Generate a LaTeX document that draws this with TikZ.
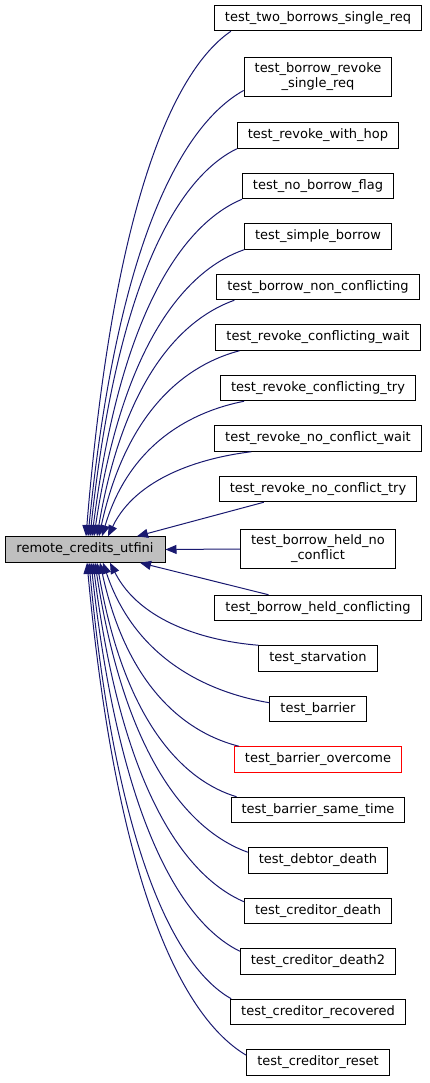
\documentclass[tikz,border=0pt]{standalone}
\usepackage{fontspec}
\setmainfont{DejaVu Sans}
\usetikzlibrary{arrows.meta}

\definecolor{callblue}{HTML}{191970}
\definecolor{mainfill}{HTML}{BFBFBF}

\newcommand*{\testx}{318}

\begin{document}
\begin{tikzpicture}
[
	x=1pt, y=-1pt,
	font=\fontsize{13}{15}\selectfont,
	testbox/.style={draw=black, line width=1pt, fill=white, inner xsep=10.5pt, inner ysep=6pt, minimum height=25.5pt, align=center},
	mainbox/.style={testbox, fill=mainfill, minimum width=160pt},
	failbox/.style={testbox, draw=red},
	call/.style={draw=callblue, line width=1pt, -{Triangle[length=11pt,width=9pt]}}
]

	\useasboundingbox (0,0) rectangle (429,1083);

	% main function
	\node[mainbox] at (85,549.5) (m) {remote\_credits\_utfini};

	% tests
	\node[testbox] at (\testx,18) (t1) {test\_two\_borrows\_single\_req};
	\node[testbox] at (\testx,77) (t2) {test\_borrow\_revoke\\\_single\_req};
	\node[testbox] at (\testx,135.5) (t3) {test\_revoke\_with\_hop};
	\node[testbox] at (\testx,186) (t4) {test\_no\_borrow\_flag};
	\node[testbox] at (\testx,236.5) (t5) {test\_simple\_borrow};
	\node[testbox] at (\testx,287) (t6) {test\_borrow\_non\_conflicting};
	\node[testbox] at (\testx,337.5) (t7) {test\_revoke\_conflicting\_wait};
	\node[testbox] at (\testx,388) (t8) {test\_revoke\_conflicting\_try};
	\node[testbox] at (\testx,438.5) (t9) {test\_revoke\_no\_conflict\_wait};
	\node[testbox] at (\testx,489) (t10) {test\_revoke\_no\_conflict\_try};
	\node[testbox] at (\testx,549) (t11) {test\_borrow\_held\_no\\\_conflict};
	\node[testbox] at (\testx,608) (t12) {test\_borrow\_held\_conflicting};
	\node[testbox] at (\testx,658.5) (t13) {test\_starvation};
	\node[testbox] at (\testx,709) (t14) {test\_barrier};
	\node[failbox] at (\testx,759.5) (t15) {test\_barrier\_overcome};
	\node[testbox] at (\testx,810) (t16) {test\_barrier\_same\_time};
	\node[testbox] at (\testx,860.5) (t17) {test\_debtor\_death};
	\node[testbox] at (\testx,911) (t18) {test\_creditor\_death};
	\node[testbox] at (\testx,961.5) (t19) {test\_creditor\_death2};
	\node[testbox] at (\testx,1012) (t20) {test\_creditor\_recovered};
	\node[testbox] at (\testx,1062.5) (t21) {test\_creditor\_reset};

	% calls above
	\draw[call] ([xshift=17pt]t1.south west) .. controls (180,66) and (115,183) .. ([xshift=1pt]m.north);
	\draw[call] ([yshift=7pt]t2.south west) .. controls (189,121) and (119,224) .. ([xshift=3pt]m.north);
	\draw[call] (t3.south west) .. controls (185,174) and (119,264) .. ([xshift=5pt]m.north);
	\draw[call] (t4.south west) .. controls (190,221) and (122,299) .. ([xshift=7pt]m.north);
	\draw[call] (t5.south west) .. controls (191,268) and (124,335) .. ([xshift=9pt]m.north);
	\draw[call] ([xshift=18pt]t6.south west) .. controls (187,317) and (125,371) .. ([xshift=12pt]m.north);
	\draw[call] ([xshift=24pt]t7.south west) .. controls (189,364) and (127,407) .. ([xshift=14pt]m.north);
	\draw[call] ([xshift=24pt]t8.south west) .. controls (194,411) and (130,442) .. ([xshift=17pt]m.north);
	\draw[call] ([xshift=37pt]t9.south west) .. controls (200,458) and (136,478) .. ([xshift=23pt]m.north);
	\draw[call] ([xshift=45pt]t10.south west) -- ([xshift=52pt]m.north);

	% calls beside
	\draw[call] (t11.west) -- (m.east);
	\draw[call] ([xshift=54pt]t12.north west) -- ([xshift=55pt]m.south);

	% calls below
	\draw[call] (t13.north west) .. controls (206,641) and (140,622) .. ([xshift=25pt]m.south);
	\draw[call] ([yshift=-7pt]t14.north west) .. controls (211,693) and (136,661) .. ([xshift=18pt]m.south);
	\draw[call] ([xshift=5pt]t15.north west) .. controls (190,734) and (128,692) .. ([xshift=15pt]m.south);
	\draw[call] ([xshift=6pt]t16.north west) .. controls (187,782) and (125,727) .. ([xshift=12pt]m.south);
	\draw[call] ([yshift=-5pt]t17.north west) .. controls (194,833) and (126,766) .. ([xshift=10pt]m.south);
	\draw[call] ([yshift=-4pt]t18.north west) .. controls (191,879) and (123,801) .. ([xshift=8pt]m.south);
	\draw[call] ([yshift=-3pt]t19.north west) .. controls (188,926) and (121,836) .. ([xshift=6pt]m.south);
	\draw[call] ([xshift=1pt]t20.north west) .. controls (182,971) and (118,870) .. ([xshift=4pt]m.south);
	\draw[call] ([yshift=-6pt]t21.north west) .. controls (190,1022) and (119,909) .. ([xshift=2pt]m.south);

\end{tikzpicture}
\end{document}
